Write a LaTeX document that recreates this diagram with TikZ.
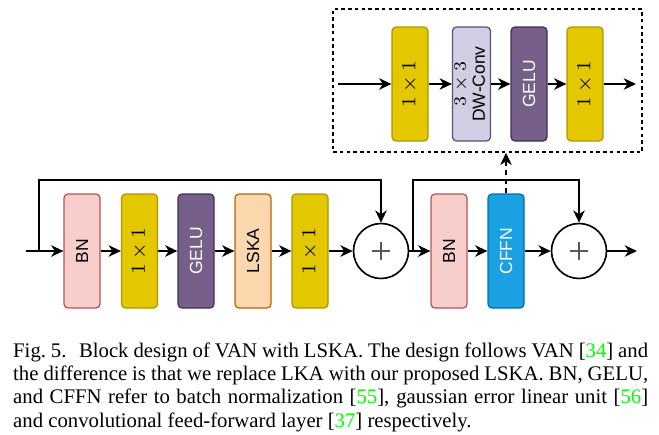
\documentclass[tikz,border=0pt]{standalone}
\usepackage{fontspec}
\setmainfont{Liberation Serif}
\setsansfont{Liberation Sans}
\usepackage{amsmath}
\usepackage{xcolor}
\usetikzlibrary{arrows.meta, calc}
\definecolor{bnfill}{HTML}{F8CECC}
\definecolor{bndraw}{HTML}{B85450}
\definecolor{gialloFill}{HTML}{E3C800}
\definecolor{gialloDraw}{HTML}{B09500}
\definecolor{violaFill}{HTML}{76608A}
\definecolor{violaDraw}{HTML}{432D57}
\definecolor{aranciaFill}{HTML}{FAD7AC}
\definecolor{aranciaDraw}{HTML}{B46504}
\definecolor{lillaFill}{HTML}{D0CEE2}
\definecolor{lillaDraw}{HTML}{56517E}
\definecolor{bluFill}{HTML}{1BA1E2}
\definecolor{bluDraw}{HTML}{006EAF}
\definecolor{citaz}{rgb}{0,1,0}
\newcommand{\ruota}[1]{\rotatebox{90}{#1}}
\newcommand{\uno}{$1\times1$}

\begin{document}
\begin{tikzpicture}[x = 0.4pt, y = -0.4pt,
    blocco/.style = {draw, rounded corners = 1.6pt, minimum width = 14.4pt, minimum height = 45.6pt, inner sep = 0pt, line width = 0.5pt, font = \sffamily\fontsize{7}{7.6}\selectfont},
    bn/.style = {blocco, fill = bnfill, draw = bndraw},
    conv/.style = {blocco, fill = gialloFill, draw = gialloDraw, font = \fontsize{7.7}{8}\selectfont},
    gelu/.style = {blocco, fill = violaFill, draw = violaDraw, text = white},
    lska/.style = {blocco, fill = aranciaFill, draw = aranciaDraw},
    dw/.style = {blocco, fill = lillaFill, draw = lillaDraw},
    cffn/.style = {blocco, fill = bluFill, draw = bluDraw, text = white},
    somma/.style = {circle, draw, minimum size = 22pt, inner sep = 0pt, line width = 0.65pt},
    freccia/.style = {-{Stealth[length = 4.9pt, width = 4.6pt, inset = 1.5pt]}, line width = 0.6pt}]
    % Parametri
    \pgfmathsetmacro{\ybase}{251}
    \pgfmathsetmacro{\yalto}{84}
    \pgfmathsetmacro{\yskip}{180}
    \useasboundingbox (0,0) rectangle (659,434);
    % Blocco VAN
    \coordinate (ingresso) at (26,\ybase);
    \node[bn] (bn1) at (82,\ybase) {\ruota{BN}};
    \node[conv] (conv1) at (139.5,\ybase) {\ruota{\uno}};
    \node[gelu] (gelu1) at (196,\ybase) {\ruota{GELU}};
    \node[lska] (lska) at (253,\ybase) {\ruota{LSKA}};
    \node[conv] (conv2) at (310,\ybase) {\ruota{\uno}};
    \node[somma] (somma1) at (381,\ybase) {};
    \node[bn] (bn2) at (449,\ybase) {\ruota{BN}};
    \node[cffn] (cffn) at (506,\ybase) {\ruota{CFFN}};
    \node[somma] (somma2) at (579,\ybase) {};
    \coordinate (uscita) at (637,\ybase);
    \coordinate (salto1) at (39,\ybase);
    \coordinate (salto1a) at (39,\yskip);
    \coordinate (salto2) at (413,\ybase);
    \coordinate (salto2a) at (413,\yskip);
    % Segni piu
    \draw[black!65, line width = 0.5pt] ([xshift = -3.7pt]somma1.center) -- ([xshift = 3.7pt]somma1.center);
    \draw[black!65, line width = 0.5pt] ([yshift = -3.7pt]somma1.center) -- ([yshift = 3.7pt]somma1.center);
    \draw[black!65, line width = 0.5pt] ([xshift = -3.7pt]somma2.center) -- ([xshift = 3.7pt]somma2.center);
    \draw[black!65, line width = 0.5pt] ([yshift = -3.7pt]somma2.center) -- ([yshift = 3.7pt]somma2.center);
    % Frecce
    \draw[freccia] (ingresso) -- (bn1);
    \draw[freccia] (bn1) -- (conv1);
    \draw[freccia] (conv1) -- (gelu1);
    \draw[freccia] (gelu1) -- (lska);
    \draw[freccia] (lska) -- (conv2);
    \draw[freccia] (conv2) -- (somma1);
    \draw[freccia] (somma1) -- (bn2);
    \draw[freccia] (bn2) -- (cffn);
    \draw[freccia] (cffn) -- (somma2);
    \draw[freccia] (somma2) -- (uscita);
    \draw[freccia] (salto1) -- (salto1a) -| (somma1.north);
    \draw[freccia] (salto2) -- (salto2a) -| (somma2.north);
    % Dettaglio CFFN
    \node[draw, dash pattern = on 1.4pt off 1.3pt, line width = 0.6pt, minimum width = 123.6pt, minimum height = 57.2pt, inner sep = 0pt] (cornice) at (487.5,80.5) {};
    \coordinate (ingresso2) at (338,\yalto);
    \node[conv] (conv3) at (410,\yalto) {\ruota{\uno}};
    \node[dw] (dw) at (471.5,\yalto) {\ruota{\begin{tabular}{@{}c@{}}$3\times3$\\DW-Conv\end{tabular}}};
    \node[gelu] (gelu2) at (529,\yalto) {\ruota{GELU}};
    \node[conv] (conv4) at (585,\yalto) {\ruota{\uno}};
    \coordinate (uscita2) at (636,\yalto);
    \draw[freccia] (ingresso2) -- (conv3);
    \draw[freccia] (conv3) -- (dw);
    \draw[freccia] (dw) -- (gelu2);
    \draw[freccia] (gelu2) -- (conv4);
    \draw[freccia] (conv4) -- (uscita2);
    \draw[freccia, dash pattern = on 2pt off 1.6pt] (cffn.north) -- (cffn.north |- cornice.south);
    % Didascalia
    \node[anchor = north west, inner sep = 0pt, text width = 254pt, align = justify, font = \fontsize{8.3}{9.33}\selectfont] (didascalia) at (12.7,342) {Fig.~5.\hspace{5pt}Block design of VAN with LSKA. The design follows VAN [\textcolor{citaz}{34}] and\linebreak the difference is that we replace LKA with our proposed LSKA. BN, GELU,\linebreak and CFFN refer to batch normalization [\textcolor{citaz}{55}], gaussian error linear unit [\textcolor{citaz}{56}]\linebreak and convolutional feed-forward layer [\textcolor{citaz}{37}] respectively.};
\end{tikzpicture}
\end{document}
